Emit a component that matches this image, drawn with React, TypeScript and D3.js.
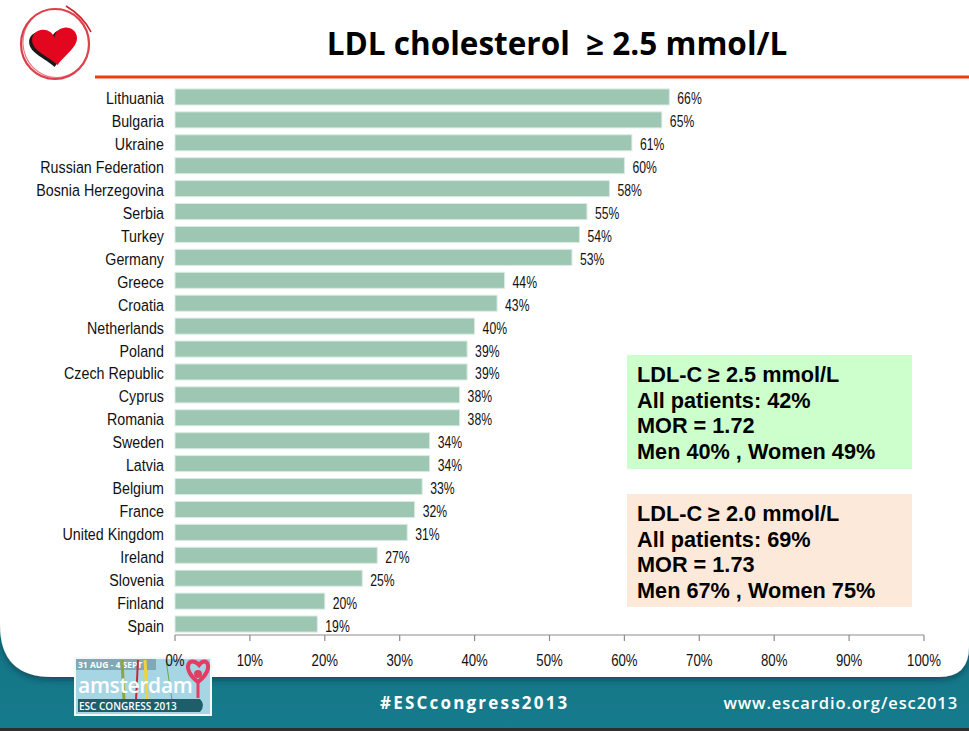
import React from "react";
import * as d3 from "d3";

const categories = [
  "Lithuania", "Bulgaria", "Ukraine", "Russian Federation", "Bosnia Herzegovina",
  "Serbia", "Turkey", "Germany", "Greece", "Croatia", "Netherlands", "Poland",
  "Czech Republic", "Cyprus", "Romania", "Sweden", "Latvia", "Belgium", "France",
  "United Kingdom", "Ireland", "Slovenia", "Finland", "Spain",
];
const values = [66, 65, 61, 60, 58, 55, 54, 53, 44, 43, 40, 39, 39, 38, 38, 34, 34, 33, 32, 31, 27, 25, 20, 19];
const tickValues = [0, 10, 20, 30, 40, 50, 60, 70, 80, 90, 100];
const titleText = "LDL cholesterol  \u2265 2.5 mmol/L";
const box1Lines = ["LDL-C \u2265 2.5 mmol/L", "All patients: 42%", "MOR = 1.72", "Men 40% , Women 49%"];
const box2Lines = ["LDL-C \u2265 2.0 mmol/L", "All patients: 69%", "MOR = 1.73", "Men 67% , Women 75%"];

const W = 969;
const H = 731;
const ARIAL = "'Liberation Sans', Arial, sans-serif";

export default function App() {
  const x = d3.scaleLinear().domain([0, 100]).range([175, 924]);
  const y = d3.scaleBand<string>().domain(categories).range([85.5, 635.5]).paddingInner(0.3).paddingOuter(0.15);
  const axisY = 635;

  const whitePath = (() => {
    const p = d3.path();
    const rl = 52, rr = 30, bottom = 677;
    p.moveTo(0, 0);
    p.lineTo(W, 0);
    p.lineTo(W, bottom - rr);
    p.quadraticCurveTo(W, bottom, W - rr, bottom);
    p.lineTo(rl, bottom);
    p.quadraticCurveTo(0, bottom, 0, bottom - rl);
    p.closePath();
    return p.toString();
  })();

  const heart = "M 50 28 C 50 18, 40 4, 25 4 C 10 4, 0 16, 0 30 C 0 55, 30 70, 50 95 C 70 70, 100 55, 100 30 C 100 16, 90 4, 75 4 C 60 4, 50 18, 50 28 Z";

  const narrow = (tx: number, ty: number, size: number, sx: number, anchor: string, content: string) => (
    <g transform={`translate(${tx} ${ty}) scale(${sx} 1)`}>
      <text x={0} y={0} textAnchor={anchor as any} fontFamily={ARIAL} fontSize={size} fill="#111">{content}</text>
    </g>
  );

  return (
    <svg width={W} height={H} style={{ position: "absolute", left: 0, top: 0, display: "block" }}>
      <defs>
        <linearGradient id="teal" x1="0" y1="0" x2="0" y2="1">
          <stop offset="0" stopColor="#0d5868" />
          <stop offset="0.15" stopColor="#137485" />
          <stop offset="1" stopColor="#167b8c" />
        </linearGradient>
        <filter id="sh" x="-10%" y="-10%" width="120%" height="130%">
          <feDropShadow dx="0" dy="3" stdDeviation="3" floodColor="#073540" floodOpacity="0.6" />
        </filter>
      </defs>
      <rect x={0} y={0} width={W} height={H} fill="#ffffff" />
      <rect x={0} y={590} width={W} height={H - 590} fill="url(#teal)" />
      <path d={whitePath} fill="#ffffff" filter="url(#sh)" />
      <rect x={0} y={728} width={W} height={3} fill="#2e2e2e" />

      {/* logo */}
      <g>
        <ellipse cx={55} cy={44} rx={34} ry={35} fill="none" stroke="#d21f2b" strokeWidth={2.2} opacity={0.85} />
        <ellipse cx={56} cy={43} rx={33} ry={34.5} fill="none" stroke="#e04550" strokeWidth={1.2} opacity={0.7} transform="rotate(-12 56 43)" />
        <path d="M 66 6 C 76 12, 86 22, 91 32" fill="none" stroke="#d21f2b" strokeWidth={1.6} />
        <path d={heart} transform="translate(30 29) scale(0.45 0.4) rotate(-6 50 50)" fill="#1a1a1a" />
        <path d={heart} transform="translate(33 27) scale(0.45 0.4) rotate(-6 50 50)" fill="#e2061e" />
      </g>

      {/* title */}
      <text x={557} y={55} textAnchor="middle" fontFamily="'Open Sans', sans-serif" fontWeight={700} fontSize={31.5} fill="#000" style={{ whiteSpace: "pre" }}>
        {titleText}
      </text>
      <rect x={95} y={75.5} width={W - 95} height={3} fill="#ee3d0f" />

      {/* bars */}
      {categories.map((c, i) => {
        const yc = (y(c) as number) + y.bandwidth() / 2;
        return (
          <g key={c}>
            <rect x={x(0)} y={y(c)} width={x(values[i]) - x(0)} height={y.bandwidth()} fill="#9dc6b3" stroke="#d9ece3" strokeWidth={1} />
            {narrow(164, yc + 7.5, 17, 0.84, "end", c)}
            {narrow(x(values[i]) + 8, yc + 7.5, 16.5, 0.74, "start", `${values[i]}%`)}
          </g>
        );
      })}

      {/* amsterdam logo */}
      <g>
        <rect x={74} y={657} width={138} height={59} fill="#f4f8f9" />
        <rect x={76} y={659} width={134} height={55} fill="#a6d6e4" />
        <rect x={76} y={659} width={80} height={11} fill="#7fa9b5" />
        <text x={78} y={668} fontFamily="'Open Sans', sans-serif" fontSize={8.5} fontWeight={700} fill="#ffffff">31 AUG - 4 SEPT</text>
        <line x1={122} y1={660} x2={124} y2={700} stroke="#8aa83a" strokeWidth={3} />
        <line x1={138} y1={660} x2={136} y2={700} stroke="#c8283c" strokeWidth={2} />
        <line x1={145} y1={660} x2={147} y2={700} stroke="#f0d33a" strokeWidth={3} />
        <line x1={166} y1={660} x2={172} y2={700} stroke="#6da64a" strokeWidth={1} />
        <text x={78} y={693} fontFamily="'Open Sans', sans-serif" fontSize={21} fontWeight={600} fill="#ffffff" letterSpacing={-0.3}>amsterdam</text>
        <path d="M 78 699 L 200 699 Q 206 705 200 712 L 78 712 Z" fill="#1e5e6a" />
        <text x={79} y={710} fontFamily="'Open Sans', sans-serif" fontSize={10} fontWeight={600} fill="#ffffff">ESC CONGRESS 2013</text>
        <path d="M 199 665 C 190 655, 180 668, 198 682 C 216 668, 206 655, 199 665 Z" fill="none" stroke="#e23d63" strokeWidth={4} />
        <circle cx={198} cy={674} r={4} fill="#e23d63" />
        <line x1={198} y1={682} x2={198} y2={698} stroke="#e23d63" strokeWidth={3} />
      </g>

      {/* axis */}
      <line x1={x(0)} y1={axisY} x2={x(100)} y2={axisY} stroke="#8c8c8c" strokeWidth={1.2} />
      {tickValues.map((t) => (
        <g key={t}>
          <line x1={x(t)} y1={axisY} x2={x(t)} y2={axisY + 6} stroke="#8c8c8c" strokeWidth={1.2} />
          {narrow(x(t), 665.5, 16.5, 0.8, "middle", `${t}%`)}
        </g>
      ))}

      {/* boxes */}
      <rect x={627} y={355} width={285} height={114} fill="#ccffcc" />
      {box1Lines.map((l, i) => (
        <text key={l} x={637} y={382 + i * 25.5} fontFamily={ARIAL} fontWeight={700} fontSize={21.7} fill="#000">{l}</text>
      ))}
      <rect x={627} y={494} width={285} height={113} fill="#fde9d9" />
      {box2Lines.map((l, i) => (
        <text key={l} x={637} y={521 + i * 25.5} fontFamily={ARIAL} fontWeight={700} fontSize={21.7} fill="#000">{l}</text>
      ))}

      {/* footer text */}
      <text x={380} y={709} fontFamily="'Open Sans', sans-serif" fontWeight={700} fontSize={17} letterSpacing={2.2} fill="#ffffff">#ESCcongress2013</text>
      <text x={958} y={709} textAnchor="end" fontFamily="'Open Sans', sans-serif" fontWeight={600} fontSize={16.5} letterSpacing={0.9} fill="#ffffff">www.escardio.org/esc2013</text>
    </svg>
  );
}
